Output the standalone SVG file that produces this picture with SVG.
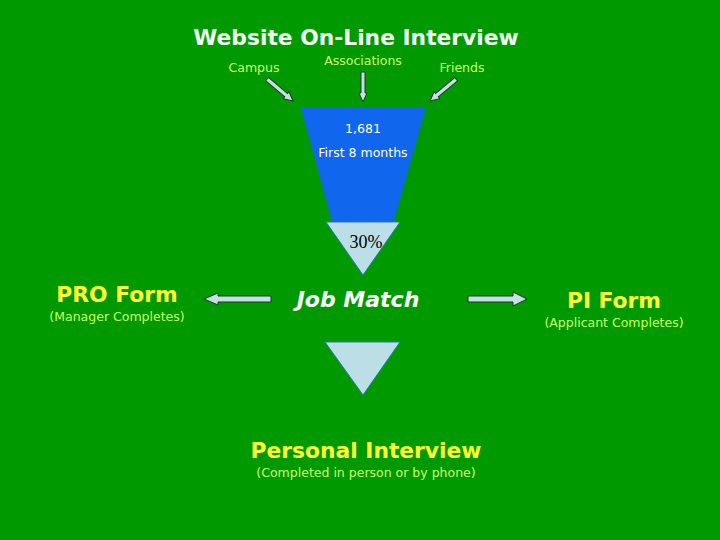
<svg xmlns="http://www.w3.org/2000/svg" width="720" height="540" viewBox="0 0 720 540">
<style>
.t{font-family:"DejaVu Sans","Verdana",sans-serif}
.small{font-size:12.5px;fill:#ccff66}
.big{font-size:21.8px;font-weight:bold;fill:#ffff33}
.arr{fill:#c4e0e0;stroke:#1a3a2a;stroke-width:1}
</style>
<rect width="720" height="540" fill="#009a00"/>
<g id="title"><text class="t" x="356" y="45" text-anchor="middle" font-size="21.8" font-weight="bold" fill="#f4fff4">Website On-Line Interview</text></g>
<g id="campus"><text class="t small" x="254" y="72" text-anchor="middle">Campus</text></g>
<g id="associations"><text class="t small" x="363" y="65" text-anchor="middle">Associations</text></g>
<g id="friends"><text class="t small" x="462" y="72" text-anchor="middle">Friends</text></g>
<g id="funnel">
<polygon points="301,108 426,108 394,221 332,221" fill="#1166ee"/>
<text class="t" x="363" y="133" text-anchor="middle" font-size="12.5" fill="#ffffff">1,681</text>
<text class="t" x="363" y="157" text-anchor="middle" font-size="12.5" fill="#ffffff">First 8 months</text>
</g>
<g id="pct">
<polygon points="326,222 400,222 363,275" fill="#bcdee6" stroke="#2a7ab0" stroke-width="1"/>
<text x="366" y="248" text-anchor="middle" font-family="Liberation Serif,serif" font-size="18" fill="#000">30%</text>
</g>
<g id="pro">
<text class="t big" x="117" y="302" text-anchor="middle">PRO Form</text>
<text class="t small" x="117" y="321" text-anchor="middle">(Manager Completes)</text>
</g>
<g id="jobmatch"><text class="t" x="358" y="307" text-anchor="middle" font-size="22" font-weight="bold" font-style="italic" fill="#ffffff">Job Match</text></g>
<g id="pi">
<text class="t big" x="614" y="308" text-anchor="middle">PI Form</text>
<text class="t small" x="614" y="327" text-anchor="middle">(Applicant Completes)</text>
</g>
<g id="lower">
<polygon points="325,342 400,342 363,395" fill="#bcdee6" stroke="#2a7ab0" stroke-width="1"/>
</g>
<g id="personal">
<text class="t big" x="366" y="458" text-anchor="middle">Personal Interview</text>
<text class="t small" x="366" y="477" text-anchor="middle">(Completed in person or by phone)</text>
</g>
<g id="connectors">
<polygon class="arr" points="204,299 218,293 218,296 271,296 271,302 218,302 218,305"/>
<polygon class="arr" points="527,299 513,292 513,296 468,296 468,302 513,302 513,306"/>
<polygon class="arr" points="361,72 365,72 365,93 367,93 363,102 359,93 361,93"/>
<g transform="translate(293,101) rotate(40.2)"><polygon class="arr" points="0,0 -9,-4.5 -9,-2.2 -34,-2.2 -34,2.2 -9,2.2 -9,4.5"/></g>
<g transform="translate(430,101) rotate(140.2)"><polygon class="arr" points="0,0 -9,-4.5 -9,-2.2 -34,-2.2 -34,2.2 -9,2.2 -9,4.5"/></g>
</g>
</svg>
